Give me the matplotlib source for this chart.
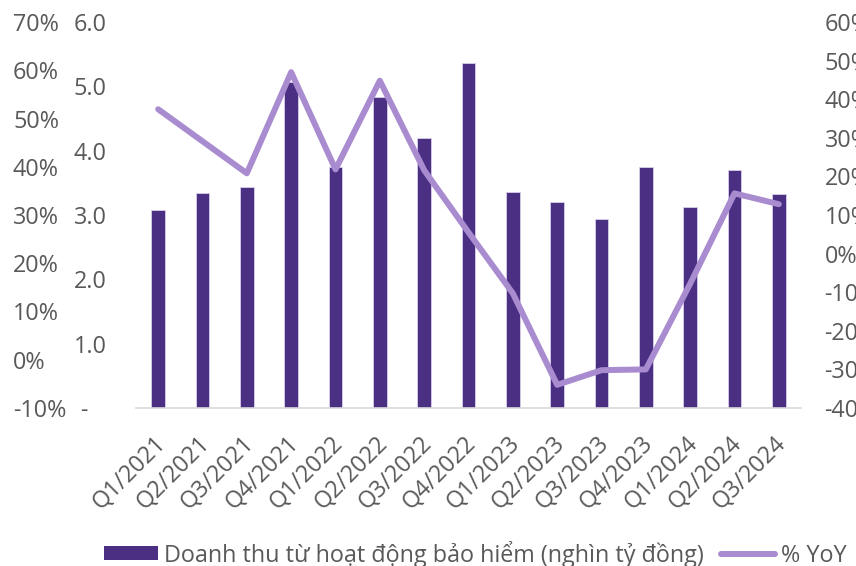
import matplotlib
matplotlib.use("Agg")
import matplotlib.pyplot as plt
from matplotlib.lines import Line2D
from matplotlib.patches import Patch
from matplotlib.transforms import ScaledTranslation

# Quarterly insurance revenue (thousand billion VND) and its YoY growth (%)
quarters = ["Q1/2021", "Q2/2021", "Q3/2021", "Q4/2021", "Q1/2022", "Q2/2022",
            "Q3/2022", "Q4/2022", "Q1/2023", "Q2/2023", "Q3/2023", "Q4/2023",
            "Q1/2024", "Q2/2024", "Q3/2024"]
revenue = [3.08, 3.34, 3.44, 5.07, 3.75, 4.84, 4.20, 5.36,
           3.35, 3.20, 2.94, 3.75, 3.12, 3.70, 3.32]
yoy = [37.4, 29.1, 20.8, 47.0, 21.8, 44.8, 21.6, 5.5,
       -10.3, -34.0, -30.2, -30.0, -7.8, 15.6, 12.8]

rev_ticks = [0, 1, 2, 3, 4, 5, 6]
rev_labels = ["-   ", "1.0", "2.0", "3.0", "4.0", "5.0", "6.0"]
yoy_ticks = [-40, -30, -20, -10, 0, 10, 20, 30, 40, 50, 60]
aux_ticks = [-10, 0, 10, 20, 30, 40, 50, 60, 70]

bar_color = "#4a2f82"
line_color = "#a98bd0"
text_color = "#595959"
font = "Open Sans"
fs = 16.8

plt.rcParams["font.family"] = [font, "DejaVu Sans"]

W, H = 856, 566
fig = plt.figure(figsize=(W / 100, H / 100), dpi=100)
left, right, top, bottom = 136, 801, 22, 408
ax = fig.add_axes([left / W, 1 - bottom / H, (right - left) / W, (bottom - top) / H])

x = list(range(len(quarters)))
ax.bar(x, revenue, width=0.31, color=bar_color, edgecolor="#d9d0ea",
       linewidth=0.6, zorder=2)
ax.set_xlim(-0.5, len(quarters) - 0.5)
ax.set_ylim(0, 6)
ax.set_yticks(rev_ticks)
ax.set_yticklabels(rev_labels)
ax.tick_params(axis="y", length=0, pad=21, labelsize=fs, labelcolor=text_color)
ax.set_xticks(x)
ax.set_xticklabels(quarters, rotation=45, ha="right", va="center",
                   rotation_mode="anchor")
ax.tick_params(axis="x", length=0, pad=23, labelsize=fs, labelcolor=text_color)
shift = ScaledTranslation(4 / 100, 0, fig.dpi_scale_trans)
for lbl in ax.get_xticklabels():
    lbl.set_transform(lbl.get_transform() + shift)
for s in ["top", "right", "left"]:
    ax.spines[s].set_visible(False)
ax.spines["bottom"].set_color("#d9d9d9")
ax.spines["bottom"].set_linewidth(1.2)

# YoY growth on the right axis
ax2 = ax.twinx()
ax2.plot(x, yoy, color=line_color, linewidth=4.3, solid_capstyle="round",
         solid_joinstyle="round", zorder=3)
ax2.set_ylim(-40, 60)
ax2.set_yticks(yoy_ticks)
ax2.set_yticklabels([f"{v}%" for v in yoy_ticks])
ax2.tick_params(axis="y", length=0, pad=17, labelsize=fs, labelcolor=text_color)
for s in ax2.spines.values():
    s.set_visible(False)

# Outer percentage scale on the far left
ax3 = ax.twinx()
ax3.set_ylim(-10, 70)
ax3.yaxis.tick_left()
ax3.set_yticks(aux_ticks)
ax3.set_yticklabels([f"{v}%" for v in aux_ticks])
ax3.tick_params(axis="y", length=0, pad=88.6, labelsize=fs, labelcolor=text_color)
for lbl in ax3.get_yticklabels():
    lbl.set_horizontalalignment("left")
for s in ax3.spines.values():
    s.set_visible(False)

handles = [Patch(facecolor=bar_color, edgecolor="none"),
           Line2D([0], [0], color=line_color, linewidth=4.3, solid_capstyle="round")]
labels = ["Doanh thu từ hoạt động bảo hiểm (nghìn tỷ đồng)", "% YoY"]
fig.legend(handles, labels, loc="center left", bbox_to_anchor=(104 / W, 1 - 554 / H),
           ncol=2, frameon=False, fontsize=fs, labelcolor=text_color,
           handlelength=2.3, handleheight=0.56, handletextpad=0.26,
           columnspacing=0.77, borderpad=0, borderaxespad=0)

fig.savefig("out.png", dpi=100)
